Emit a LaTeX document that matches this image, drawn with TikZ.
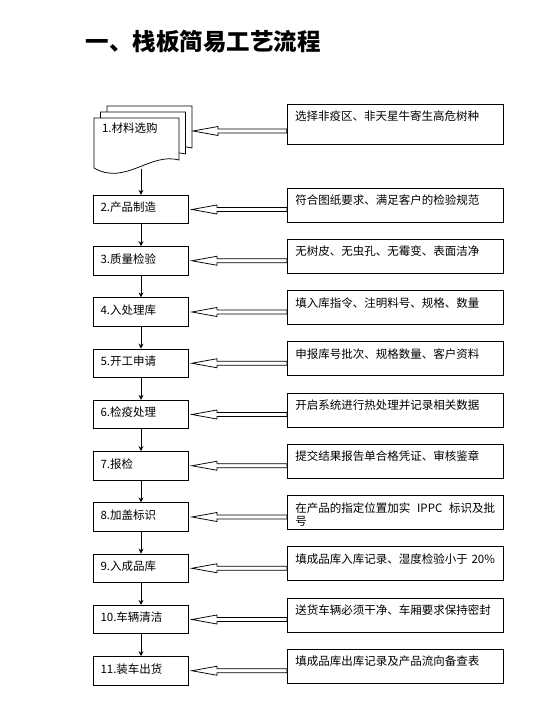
\documentclass[tikz,border=0pt]{standalone}
\usepackage{fontspec}
\setmainfont{Noto Sans CJK SC}
\usepackage{tikz}
\usetikzlibrary{arrows.meta, positioning, calc}

\begin{document}
\begin{tikzpicture}[
    x=1pt, y=-1pt,
    every node/.style={font=\fontsize{11.5}{13}\selectfont},
    stepbox/.style={rectangle, draw, line width=0.75pt, minimum width=95pt, text width=81pt, inner xsep=7pt, inner ysep=4.5pt, text height=12pt, text depth=7.5pt, align=left},
    docbox/.style={rectangle, minimum width=85pt, text width=69pt, inner xsep=8pt, inner ysep=5pt, text height=12pt, text depth=31pt, align=left},
    notebox/.style={rectangle, draw, line width=0.75pt, minimum width=216pt, text width=200pt, inner xsep=8pt, inner ysep=4.5pt, text height=12pt, text depth=13pt, align=left},
    doc/.style={draw, line width=0.75pt, fill=white},
    flow/.style={-{Stealth[length=5pt, width=5pt]}, line width=0.9pt},
    hollow/.style={draw, line width=0.75pt, fill=white, line join=miter}
]
\useasboundingbox (0,0) rectangle (557,704);

\node[anchor=west, font=\bfseries\fontsize{23.5}{27}\selectfont] (title) at (82,42) {一、栈板简易工艺流程};

% stacked documents of the first step
\foreach \k in {2,1,0}
  \draw[doc, shift={(6.5*\k,-6*\k)}] (94,118) -- (179,118) -- (179,160) .. controls (150,152) and (125,186) .. (94,168) -- cycle;
\node[docbox] (l1) at (136.5,142) {1.材料选购};

\node[stepbox] (l2) at (141,209.5) {2.产品制造};
\node[stepbox, below=22pt of l2] (l3) {3.质量检验};
\node[stepbox, below=22pt of l3] (l4) {4.入处理库};
\node[stepbox, below=22pt of l4] (l5) {5.开工申请};
\node[stepbox, below=22pt of l5] (l6) {6.检疫处理};
\node[stepbox, below=22pt of l6] (l7) {7.报检};
\node[stepbox, below=22pt of l7] (l8) {8.加盖标识};
\node[stepbox, below=22pt of l8] (l9) {9.入成品库};
\node[stepbox, below=22pt of l9] (l10) {10.车辆清洁};
\node[stepbox, below=22pt of l10] (l11) {11.装车出货};

\node[notebox, text depth=19pt] (r1) at (395,124) {选择非疫区、非天星牛寄生高危树种};
\node[notebox, right=98pt of l2, yshift=4.5pt] (r2) {符合图纸要求、满足客户的检验规范};
\node[notebox, right=98pt of l3, yshift=4.5pt] (r3) {无树皮、无虫孔、无霉变、表面洁净};
\node[notebox, right=98pt of l4, yshift=4.5pt] (r4) {填入库指令、注明料号、规格、数量};
\node[notebox, right=98pt of l5, yshift=4.5pt] (r5) {申报库号批次、规格数量、客户资料};
\node[notebox, right=98pt of l6, yshift=4.5pt] (r6) {开启系统进行热处理并记录相关数据};
\node[notebox, right=98pt of l7, yshift=4.5pt] (r7) {提交结果报告单合格凭证、审核鉴章};
\node[notebox, right=98pt of l8, yshift=4.5pt] (r8) {在产品的指定位置加实\hfill IPPC\hfill 标识及批\\号};
\node[notebox, right=98pt of l9, yshift=4.5pt] (r9) {填成品库入库记录、湿度检验小于 20\%};
\node[notebox, right=98pt of l10, yshift=4.5pt] (r10) {送货车辆必须干净、车厢要求保持密封};
\node[notebox, right=98pt of l11, yshift=4.5pt] (r11) {填成品库出库记录及产品流向备查表};

% flow downwards
\draw[flow] (l2.north |- l1.south) -- (l2.north);
\foreach \i [count=\j from 3] in {2,...,10}
  \draw[flow] (l\i.south) -- (l\j.north);

% hollow arrows from the notes
\coordinate (t1) at (193,131);
\foreach \i in {2,...,11}
  \coordinate (t\i) at ($(l\i.east)+(3,0)$);
\foreach \i in {1,...,11}
  \draw[hollow] (t\i) -- ++(25,-4.5) -- ++(0,2.5) -- ($(r\i.west |- t\i)+(0,-2)$) -- ++(0,4) -- ($(t\i)+(25,2)$) -- ++(0,2.5) -- cycle;

\end{tikzpicture}
\end{document}
